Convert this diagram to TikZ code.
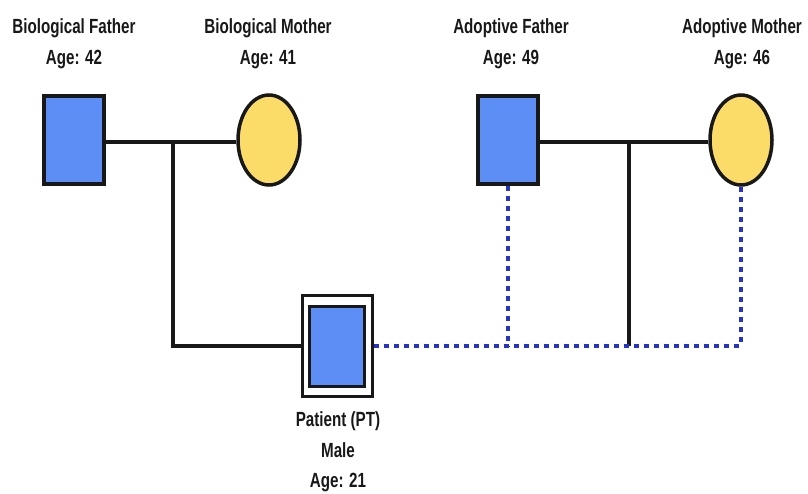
\documentclass[tikz,border=0pt]{standalone}
\usepackage{fontspec}
\newfontfamily\tagfont[FakeStretch=0.74]{Liberation Sans}
\usetikzlibrary{shapes.geometric, positioning}
\definecolor{maleblue}{RGB}{92,142,246}
\definecolor{femyellow}{RGB}{252,220,104}
\definecolor{adoptblue}{RGB}{38,52,196}
\definecolor{ink}{RGB}{24,24,24}
\tikzset{
    male/.style={draw=ink, line width=3.5pt, fill=maleblue, minimum width=60pt, minimum height=88pt, inner sep=0pt},
    female/.style={ellipse, draw=ink, line width=3.5pt, fill=femyellow, minimum width=62pt, minimum height=90pt, inner sep=0pt},
    tag/.style={text=ink, align=center, font=\tagfont\bfseries\fontsize{20.5}{31}\selectfont},
    union/.style={draw=ink, line width=3.5pt},
    adopted/.style={draw=adoptblue, line width=3.5pt, dash pattern=on 5pt off 5pt},
}

\begin{document}
\begin{tikzpicture}[x=1pt, y=-1pt]
    \useasboundingbox (0,0) rectangle (808,493);

    % --- Parents ---
    \node[male] (bfather) at (74,140) {};
    \node[female] (bmother) at (269,140) {};
    \node[male] (afather) at (508,140) {};
    \node[female] (amother) at (741,140) {};

    % --- Patient (double box) ---
    \node[draw=ink, line width=3pt, fill=white, minimum width=70pt, minimum height=101pt, inner sep=0pt] (pt) at (337,346) {};
    \node[male, line width=3pt, minimum width=55pt, minimum height=80pt] (ptin) at (337,346) {};

    % --- Labels ---
    \node[tag] (bfathertag) at (74,44) {Biological Father\\Age: 42};
    \node[tag] (bmothertag) at (268,44) {Biological Mother\\Age: 41};
    \node[tag] (afathertag) at (511,44) {Adoptive Father\\Age: 49};
    \node[tag] (amothertag) at (742,44) {Adoptive Mother\\Age: 46};
    \node[tag, text depth=0pt, font=\tagfont\bfseries\fontsize{20.5}{30.5}\selectfont] (pttag) at (338,450) {Patient (PT)\\Male\\Age: 21};

    % --- Biological family ---
    \coordinate (bmid) at (173,142);
    \draw[union] (bfather.east |- bmid) -- (bmother.west |- bmid);
    \draw[union] (bmid) |- (pt.west);

    % --- Adoptive family ---
    \coordinate (amid) at (629,142);
    \draw[union] (afather.east |- amid) -- (amother.west |- amid);
    \draw[union] (amid) -- (amid |- pt.east);

    % --- Adoption links ---
    \draw[adopted] (pt.east) -- (amother.south |- pt.east);
    \draw[adopted] (afather.south) -- (afather.south |- pt.east);
    \draw[adopted] (amother.south) -- (amother.south |- pt.east);

\end{tikzpicture}
\end{document}
